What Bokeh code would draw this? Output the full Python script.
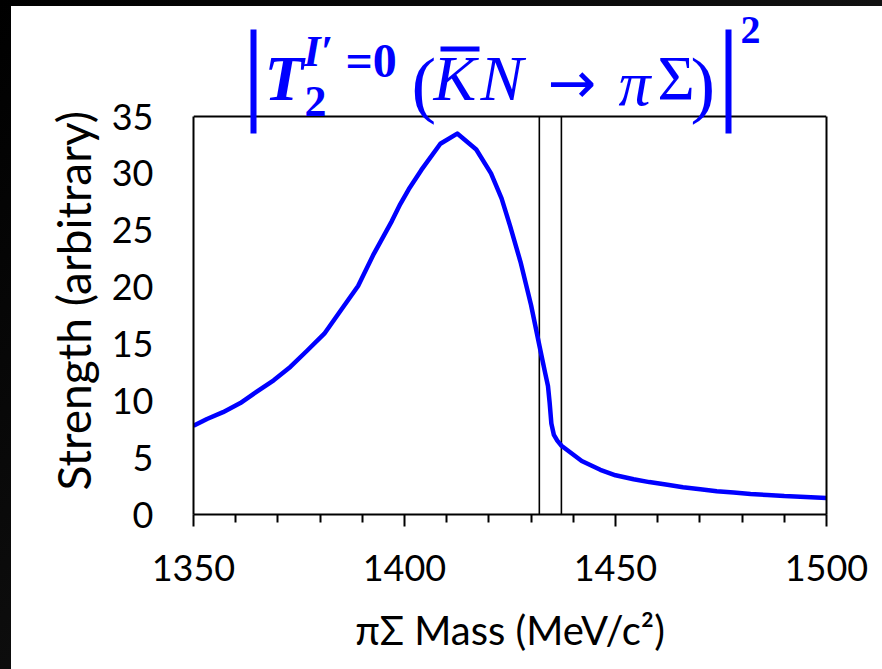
from bokeh.plotting import figure
from bokeh.models import FixedTicker, Label, BoxAnnotation, Range1d, LinearAxis, Span
from bokeh.layouts import column
from bokeh.embed import file_html
from bokeh.resources import INLINE

# ---- data ----
mass = [1350, 1353.2, 1357, 1361.1, 1365, 1369, 1373, 1376.9, 1381, 1384.8,
        1389, 1392.7, 1397, 1399, 1401, 1404, 1408.5, 1412.5,
        1417, 1420.5, 1423, 1425, 1427.5, 1430, 1432, 1433.3, 1434.0, 1434.4,
        1434.8, 1435.4, 1436.2, 1437.2, 1442, 1446.4, 1450, 1454.3, 1458,
        1462.3, 1466, 1470.1, 1474, 1478, 1482, 1486, 1490, 1493.8, 1500]
strength = [7.8, 8.4, 9.0, 9.8, 10.8, 11.8, 13.0, 14.4, 15.9, 17.9,
            20.1, 22.9, 25.8, 27.3, 28.6, 30.3, 32.6, 33.5,
            32.1, 30.0, 27.8, 25.4, 22.2, 18.4, 14.8, 12.5, 11.3, 9.8,
            8.0, 7.0, 6.5, 6.05, 4.7, 3.93, 3.45, 3.1, 2.85,
            2.61, 2.4, 2.23, 2.05, 1.93, 1.8, 1.72, 1.62, 1.57, 1.45]
thresholds = [1431.95, 1437.18]          # K- p and K0bar n thresholds
x_ticks = [1350, 1400, 1450, 1500]
x_minor = [v for v in range(1350, 1501, 10) if v not in x_ticks]
y_ticks = [0, 5, 10, 15, 20, 25, 30, 35]
x_title = "\u03c0\u03a3 Mass (MeV/c\u00b2)"
y_title = "Strength (arbitrary)"

X0, X1, Y0, Y1 = 1350, 1500, 0, 35

# ---- geometry (page pixels) ----
OFF_X, OFF_Y = 11, 6
BOX_L, BOX_R, BOX_T, BOX_B = 193, 826, 116, 514      # plot box on the page
W, H = 882 - OFF_X, 669 - OFF_Y
PX_PER_Y = (BOX_B - BOX_T) / (Y1 - Y0)
Y_TOP = Y1 + (BOX_T - OFF_Y) / PX_PER_Y              # frame extends up to hold the formula


def dx(px):
    return X0 + (px - BOX_L) * (X1 - X0) / (BOX_R - BOX_L)


def dy(py):
    return Y1 - (py - BOX_T) / PX_PER_Y


BLUE = "#0000ff"
FONT = "Lato"
SERIF = "Liberation Serif"

p = figure(width=W, height=H, output_backend="svg", toolbar_location=None,
           title=None,
           x_range=Range1d(X0, X1), y_range=Range1d(Y0, Y_TOP),
           min_border_left=BOX_L - OFF_X, min_border_right=882 - BOX_R,
           min_border_top=0, min_border_bottom=669 - BOX_B)
p.margin = (OFF_Y, 0, 0, OFF_X)
p.styles = {"background-color": "white"}
p.background_fill_color = "white"
p.border_fill_color = "white"
p.outline_line_color = None
p.xgrid.visible = False
p.ygrid.visible = False

p.segment(x0=thresholds, x1=thresholds, y0=[Y0] * 2, y1=[Y1] * 2,
          line_color="black", line_width=1.6)
p.line(mass, strength, line_color=BLUE, line_width=4.5, line_join="round")

# top edge of the plot box
p.add_layout(Span(location=Y1, dimension="width", line_color="black", line_width=2))

xa = p.xaxis[0]
xa.ticker = FixedTicker(ticks=x_ticks, minor_ticks=x_minor)
xa.axis_line_color = "black"
xa.axis_line_width = 2
xa.major_tick_line_color = "black"
xa.major_tick_line_width = 2
xa.minor_tick_line_color = "black"
xa.minor_tick_line_width = 2
xa.major_tick_in = 0
xa.major_tick_out = 12
xa.minor_tick_in = 0
xa.minor_tick_out = 8
xa.major_label_text_font = FONT
xa.major_label_text_font_size = "36px"
xa.major_label_text_color = "black"
xa.major_label_standoff = 28
xa.axis_label = x_title
xa.axis_label_text_font = FONT
xa.axis_label_text_font_size = "40px"
xa.axis_label_text_font_style = "normal"
xa.axis_label_text_color = "black"
xa.axis_label_standoff = 22

ya = p.yaxis[0]
ya.ticker = FixedTicker(ticks=y_ticks)
ya.bounds = (Y0, Y1)
ya.axis_line_color = "black"
ya.axis_line_width = 2
ya.major_tick_in = 0
ya.major_tick_out = 0
ya.minor_tick_in = 0
ya.minor_tick_out = 0
ya.major_label_text_font = FONT
ya.major_label_text_font_size = "36px"
ya.major_label_text_color = "black"
ya.major_label_standoff = 40
# the axis title is centred on the tall frame; trailing em spaces push the
# visible words down so they sit centred on the plot box as in the reference
ya.axis_label = y_title + "\u2003\u2003\u2005"
ya.axis_label_text_font = FONT
ya.axis_label_text_font_size = "46px"
ya.axis_label_text_font_style = "normal"
ya.axis_label_text_color = "black"
ya.axis_label_standoff = 8

# right edge of the plot box
ra = LinearAxis(bounds=(Y0, Y1), ticker=FixedTicker(ticks=[]),
                axis_line_color="black", axis_line_width=2,
                major_tick_in=0, major_tick_out=0, minor_tick_in=0, minor_tick_out=0,
                major_label_text_font_size="0px")
p.add_layout(ra, "right")


# ---- formula title built from text pieces (y = vertical centre of glyphs) ----
def lab(text, px, pyc, size, style, font=SERIF):
    p.add_layout(Label(x=dx(px), y=dy(pyc), text=text, text_font=font,
                       text_font_size=size, text_font_style=style,
                       text_color=BLUE, text_baseline="middle",
                       text_align="left"))


def bar(l, r, t, b):
    p.add_layout(BoxAnnotation(left=dx(l), right=dx(r), top=dy(t), bottom=dy(b),
                               fill_color=BLUE, fill_alpha=1, line_alpha=0))


bar(250, 256, 29, 133)
bar(725, 731, 29, 133)
lab("T", 264, 78, "64px", "bold italic")
lab("I\u2032", 303, 51, "44px", "bold italic")
lab("=0", 345, 60, "48px", "bold")
lab("2", 304, 101, "44px", "bold")
lab("(", 411, 83, "74px", "normal")
lab("K", 433, 78, "64px", "italic")
bar(440, 479, 46, 51)
lab("N", 480, 78, "64px", "italic")
lab("\u2192", 547, 82, "58px", "normal", "DejaVu Sans")
lab("\u03c0", 618, 83, "64px", "italic")
lab("\u03a3", 657, 78, "64px", "normal")
lab(")", 690, 83, "74px", "normal")
lab("2", 740, 29, "40px", "bold")

layout = column(p, styles={"background": "linear-gradient(135deg, #000000 0%, #0c0c0c 40%, #1e1e1e 100%)"})

open("out.html", "w").write(file_html(layout, INLINE))
